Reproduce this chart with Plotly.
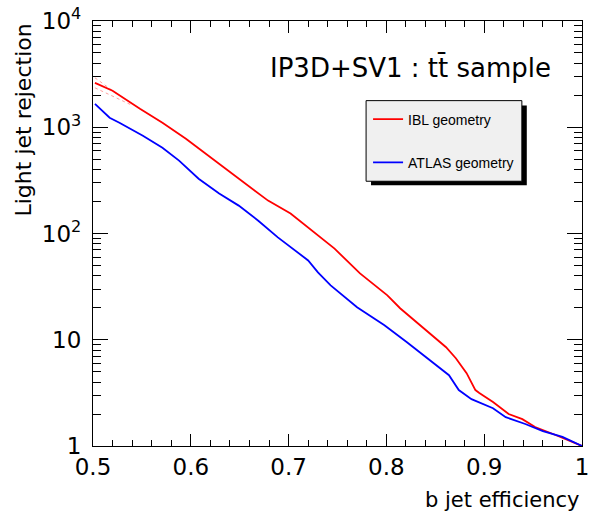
import plotly.graph_objects as go

# ---- data ----
ibl_eff = [0.502, 0.520, 0.548, 0.571, 0.595, 0.621, 0.629, 0.649, 0.679, 0.702,
           0.723, 0.730, 0.747, 0.773, 0.801, 0.814, 0.841, 0.851, 0.861, 0.871,
           0.882, 0.891, 0.895, 0.909, 0.925, 0.939, 0.952, 0.973, 1.000]
ibl_rej = [2618, 2203, 1492, 1102, 780, 515, 458, 336, 204, 154,
           107, 96, 72, 42.1, 26.2, 19.8, 12.3, 10.3, 8.5, 6.7,
           4.85, 3.36, 3.15, 2.59, 2.00, 1.79, 1.51, 1.27, 1.0]

atlas_eff = [0.502, 0.517, 0.527, 0.551, 0.571, 0.588, 0.608, 0.629, 0.649, 0.669,
             0.689, 0.702, 0.720, 0.730, 0.743, 0.770, 0.798, 0.821, 0.841, 0.854,
             0.864, 0.874, 0.887, 0.909, 0.922, 0.942, 0.960, 0.980, 1.000]
atlas_rej = [1663, 1228, 1102, 832, 642, 485, 328, 238, 183, 132,
             92, 75, 55.8, 43.0, 32.5, 20.2, 13.7, 9.48, 6.85, 5.52,
             4.64, 3.36, 2.76, 2.27, 1.87, 1.61, 1.38, 1.22, 1.0]

# faint dotted error band at the start of the IBL curve
band_up_eff = [0.502, 0.512, 0.524]
band_up_rej = [2920, 2500, 2080]
band_lo_eff = [0.502, 0.520, 0.538]
band_lo_rej = [2350, 1950, 1640]

y_tickvals = [1, 10, 100, 1000, 10000]
y_ticktext = ["1", "10", "10<sup>2</sup>", "10<sup>3</sup>", "10<sup>4</sup>"]
x_tickvals = [0.5, 0.6, 0.7, 0.8, 0.9, 1.0]
x_ticktext = ["0.5", "0.6", "0.7", "0.8", "0.9", "1"]

FONT = "DejaVu Sans, Liberation Sans, Arial, sans-serif"
LFONT = "Liberation Sans, Arial, Helvetica, sans-serif"

fig = go.Figure()
for ex, ry in [(band_up_eff, band_up_rej), (band_lo_eff, band_lo_rej)]:
    fig.add_trace(go.Scatter(x=ex, y=ry, mode="lines", showlegend=False,
                             line=dict(color="rgba(255,80,80,0.55)", width=1, dash="dot"),
                             hoverinfo="skip"))
fig.add_trace(go.Scatter(x=ibl_eff, y=ibl_rej, mode="lines", name="IBL geometry",
                         legendgroup="a", line=dict(color="#ff0000", width=1.8)))
fig.add_trace(go.Scatter(x=atlas_eff, y=atlas_rej, mode="lines", name="ATLAS geometry",
                         legendgroup="b", line=dict(color="#0000ff", width=1.8)))

L, R, T, B = 93, 4, 19, 73
W, H = 593, 519
pw, ph = W - L - R, H - T - B

def px(xw):
    return (xw - L) / pw

def py(yw):
    return (T + ph - yw) / ph

fig.update_layout(
    width=W, height=H,
    margin=dict(l=L, r=R, t=T, b=B),
    paper_bgcolor="white", plot_bgcolor="white",
    font=dict(family=FONT, color="black", size=22),
    showlegend=True,
    legend=dict(x=px(372), y=py(102), xanchor="left", yanchor="top",
                bgcolor="rgba(0,0,0,0)", borderwidth=0,
                font=dict(size=14, family=LFONT), traceorder="grouped",
                tracegroupgap=22, itemwidth=30),
    shapes=[
        dict(type="rect", xref="paper", yref="paper",
             x0=px(375), x1=px(533), y0=py(184), y1=py(104),
             fillcolor="black", line=dict(width=0), layer="above"),
        dict(type="rect", xref="paper", yref="paper",
             x0=px(370), x1=px(528), y0=py(180), y1=py(99),
             fillcolor="#f0f0f0", line=dict(color="black", width=1), layer="above"),
    ],
    annotations=[
        dict(text="IP3D+SV1 : tt\u0304 sample", xref="paper", yref="paper",
             x=px(271), y=py(66), xanchor="left", yanchor="middle",
             showarrow=False, font=dict(size=26)),
        dict(text="b jet efficiency", xref="paper", yref="paper",
             x=px(588), y=py(500), xanchor="right", yanchor="middle",
             showarrow=False, font=dict(size=21)),
        dict(text="Light jet rejection", xref="paper", yref="paper",
             x=px(22), y=py(20), xanchor="center", yanchor="top", textangle=-90,
             showarrow=False, font=dict(size=22)),
    ],
)

fig.update_xaxes(range=[0.5, 1.0], showgrid=False, zeroline=False,
                 tickvals=x_tickvals, ticktext=x_ticktext,
                 ticks="inside", ticklen=12, tickwidth=1, tickcolor="black",
                 minor=dict(ticks="inside", ticklen=6, dtick=0.02, tickcolor="black", showgrid=False),
                 showline=True, linecolor="black", linewidth=1.2, mirror="ticks",
                 ticklabeloverflow="allow", tickfont=dict(size=23))
fig.update_yaxes(type="log", range=[0, 4], showgrid=False, zeroline=False,
                 tickvals=y_tickvals, ticktext=y_ticktext,
                 ticks="inside", ticklen=15, tickwidth=1, tickcolor="black",
                 minor=dict(ticks="inside", ticklen=8, dtick="D1", tickcolor="black", showgrid=False),
                 showline=True, linecolor="black", linewidth=1.2, mirror="ticks",
                 ticklabeloverflow="allow", ticklabelstandoff=6, tickfont=dict(size=23))

fig.write_html("out.html", config={"displayModeBar": False},
               post_script="document.body.style.margin='0';document.body.style.padding='0';")
